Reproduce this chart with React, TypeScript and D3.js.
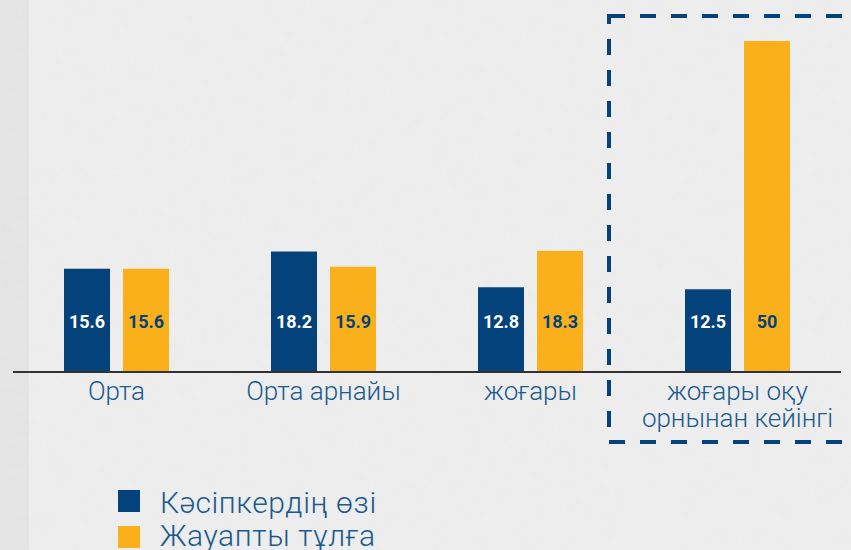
import React from "react";
import * as d3 from "d3";

const categories: string[][] = [["Орта"], ["Орта арнайы"], ["жоғары"], ["жоғары оқу", "орнынан кейінгі"]];
const seriesNames = ["Кәсіпкердің өзі", "Жауапты тұлға"];
const ownerValues = [15.6, 18.2, 12.8, 12.5];
const responsibleValues = [15.6, 15.9, 18.3, 50];
const valueLabels = [["15.6", "18.2", "12.8", "12.5"], ["15.6", "15.9", "18.3", "50"]];

const W = 851, H = 550;
const BLUE = "#03427a";
const ORANGE = "#f9b01b";
const TEXTBLUE = "#1a5a8f";

export default function App() {
  const baseY = 372;
  const y = d3.scaleLinear().domain([0, 50]).range([baseY, 41]);
  const x0 = d3.scaleBand<number>().domain(d3.range(categories.length)).range([13, 841]).padding(0);
  const x1 = d3.scaleBand<number>().domain([0, 1]).range([51, 156]).paddingInner(0.2203).paddingOuter(0);
  const series = [ownerValues, responsibleValues];
  const colors = [BLUE, ORANGE];
  const labelColors = ["#ffffff", BLUE];
  const font = "Roboto, sans-serif";
  return (
    <svg width={W} height={H} style={{ position: "absolute", left: 0, top: 0 }}>
      <defs>
        <filter id="tex" x="0" y="0" width="100%" height="100%">
          <feTurbulence type="fractalNoise" baseFrequency="0.06" numOctaves="3" seed="3" />
          <feColorMatrix type="matrix" values="0 0 0 0 0.5  0 0 0 0 0.5  0 0 0 0 0.5  0 0 0 0.08 0" />
        </filter>
      </defs>
      <rect x={0} y={0} width={W} height={H} fill="#efefef" />
      <rect x={0} y={0} width={29} height={H} fill="#e6e6e6" />
      <rect x={0} y={0} width={W} height={H} filter="url(#tex)" />
      {series.map((vals, s) =>
        vals.map((v, i) => (
          <rect key={`b${s}-${i}`} x={x0(i)! + x1(s)!} y={y(v)} width={x1.bandwidth()} height={baseY - y(v)} fill={colors[s]} />
        ))
      )}
      {series.map((vals, s) =>
        vals.map((v, i) => (
          <text key={`l${s}-${i}`} x={x0(i)! + x1(s)! + x1.bandwidth() / 2} y={327.5} textAnchor="middle"
            fontFamily={font} fontWeight={700} fontSize={18} fill={labelColors[s]}>{valueLabels[s][i]}</text>
        ))
      )}
      <line x1={13} x2={841} y1={baseY} y2={baseY} stroke="#333" strokeWidth={2} />
      {categories.map((lines, i) => (
        <text key={`c${i}`} x={x0(i)! + x0.bandwidth() / 2} textAnchor="middle" fontFamily={font} fontWeight={300} fontSize={26} fill={TEXTBLUE}>
          {lines.map((ln, j) => (
            <tspan key={j} x={x0(i)! + x0.bandwidth() / 2} y={400 + j * 27}>{ln}</tspan>
          ))}
        </text>
      ))}
      <rect x={609} y={16} width={260} height={426} fill="none" stroke={BLUE} strokeWidth={4} strokeDasharray="16 15" />
      {seriesNames.map((n, i) => (
        <g key={`lg${i}`}>
          <rect x={118} y={490 + i * 36} width={22} height={22} fill={colors[i]} />
          <text x={160} y={513 + i * 33} fontFamily={font} fontWeight={300} fontSize={30} letterSpacing={0.6} fill={TEXTBLUE}>{n}</text>
        </g>
      ))}
    </svg>
  );
}
